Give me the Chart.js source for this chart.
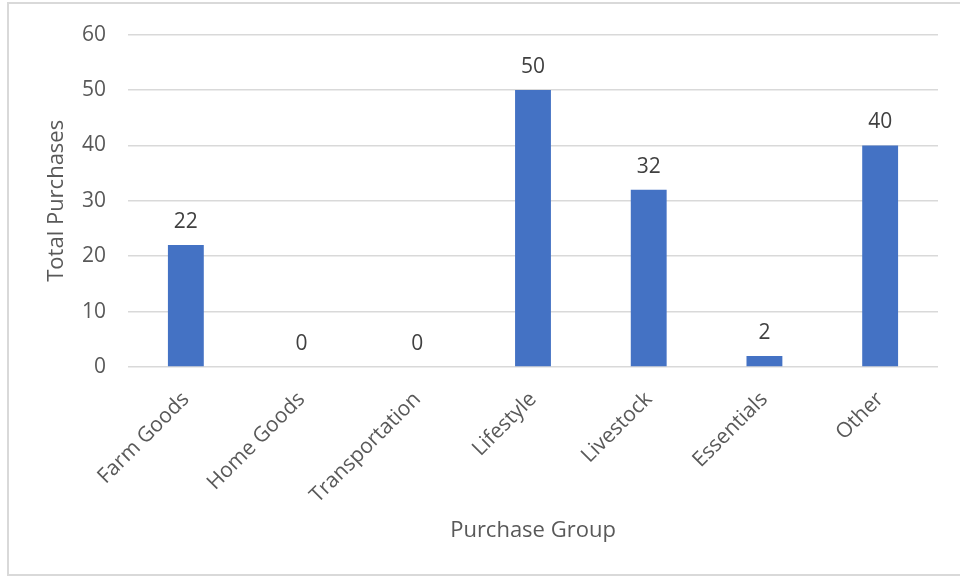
<!DOCTYPE html>
<html>
<head>
<meta charset="utf-8">
<script src="https://cdn.jsdelivr.net/npm/chart.js@4/dist/chart.umd.min.js"></script>
<style>
  html, body { margin: 0; padding: 0; background: #fff; overflow: hidden; }
  #frame { position: absolute; left: 7px; top: 2px; width: 970px; height: 574px; border: 2px solid #d9d9d9; box-sizing: border-box; }
  #wrap { position: absolute; left: 0; top: 0; width: 960px; height: 579px; }
</style>
</head>
<body>
<div id="frame"></div>
<div id="wrap"><canvas id="chart" width="960" height="579"></canvas></div>
<script>
// chart data
const categories = ["Farm Goods", "Home Goods", "Transportation", "Lifestyle", "Livestock", "Essentials", "Other"];
const purchases = [22, 0, 0, 50, 32, 2, 40];
const yTicks = [0, 10, 20, 30, 40, 50, 60];

const textColor = "#595959";
const fontFamily = "'Open Sans', 'Noto Sans', sans-serif";

// draws the value above each bar, like excel data labels
const barLabels = {
  id: "barLabels",
  afterDatasetsDraw(chart) {
    const ctx = chart.ctx;
    const meta = chart.getDatasetMeta(0);
    ctx.save();
    ctx.font = "21px " + fontFamily;
    ctx.fillStyle = "#404040";
    ctx.textAlign = "center";
    ctx.textBaseline = "alphabetic";
    meta.data.forEach((bar, i) => {
      ctx.fillText(String(purchases[i]), bar.x, bar.y - 17);
    });
    ctx.restore();
  }
};

const ctx = document.getElementById("chart").getContext("2d");
new Chart(ctx, {
  type: "bar",
  data: {
    labels: categories,
    datasets: [{
      label: "Total Purchases",
      data: purchases,
      backgroundColor: "#4472C4",
      borderWidth: 0,
      barPercentage: 0.31,
      categoryPercentage: 1
    }]
  },
  options: {
    responsive: false,
    animation: false,
    layout: { padding: { left: 0, right: 22, top: 33, bottom: 0 } },
    plugins: {
      legend: { display: false },
      tooltip: { enabled: false }
    },
    scales: {
      x: {
        grid: { display: false, drawTicks: false },
        border: { display: false },
        ticks: {
          color: textColor,
          font: { family: fontFamily, size: 21 },
          maxRotation: 45,
          minRotation: 45,
          padding: 20
        },
        title: {
          display: true,
          text: "Purchase Group",
          color: textColor,
          font: { family: fontFamily, size: 22 },
          padding: { top: 0, bottom: 35 }
        },
        afterFit(scale) { scale.height = 212; }
      },
      y: {
        min: 0,
        max: 60,
        afterBuildTicks(scale) { scale.ticks = yTicks.map(v => ({ value: v })); },
        grid: { color: "#d9d9d9", lineWidth: 1.5, drawTicks: false },
        border: { display: false },
        ticks: {
          color: textColor,
          font: { family: fontFamily, size: 21 },
          padding: 22
        },
        title: {
          display: true,
          text: "Total Purchases",
          color: textColor,
          font: { family: fontFamily, size: 22 },
          padding: { top: 44, bottom: 0 }
        },
        afterFit(scale) { scale.width = 128; }
      }
    }
  },
  plugins: [barLabels]
});
</script>
</body>
</html>
